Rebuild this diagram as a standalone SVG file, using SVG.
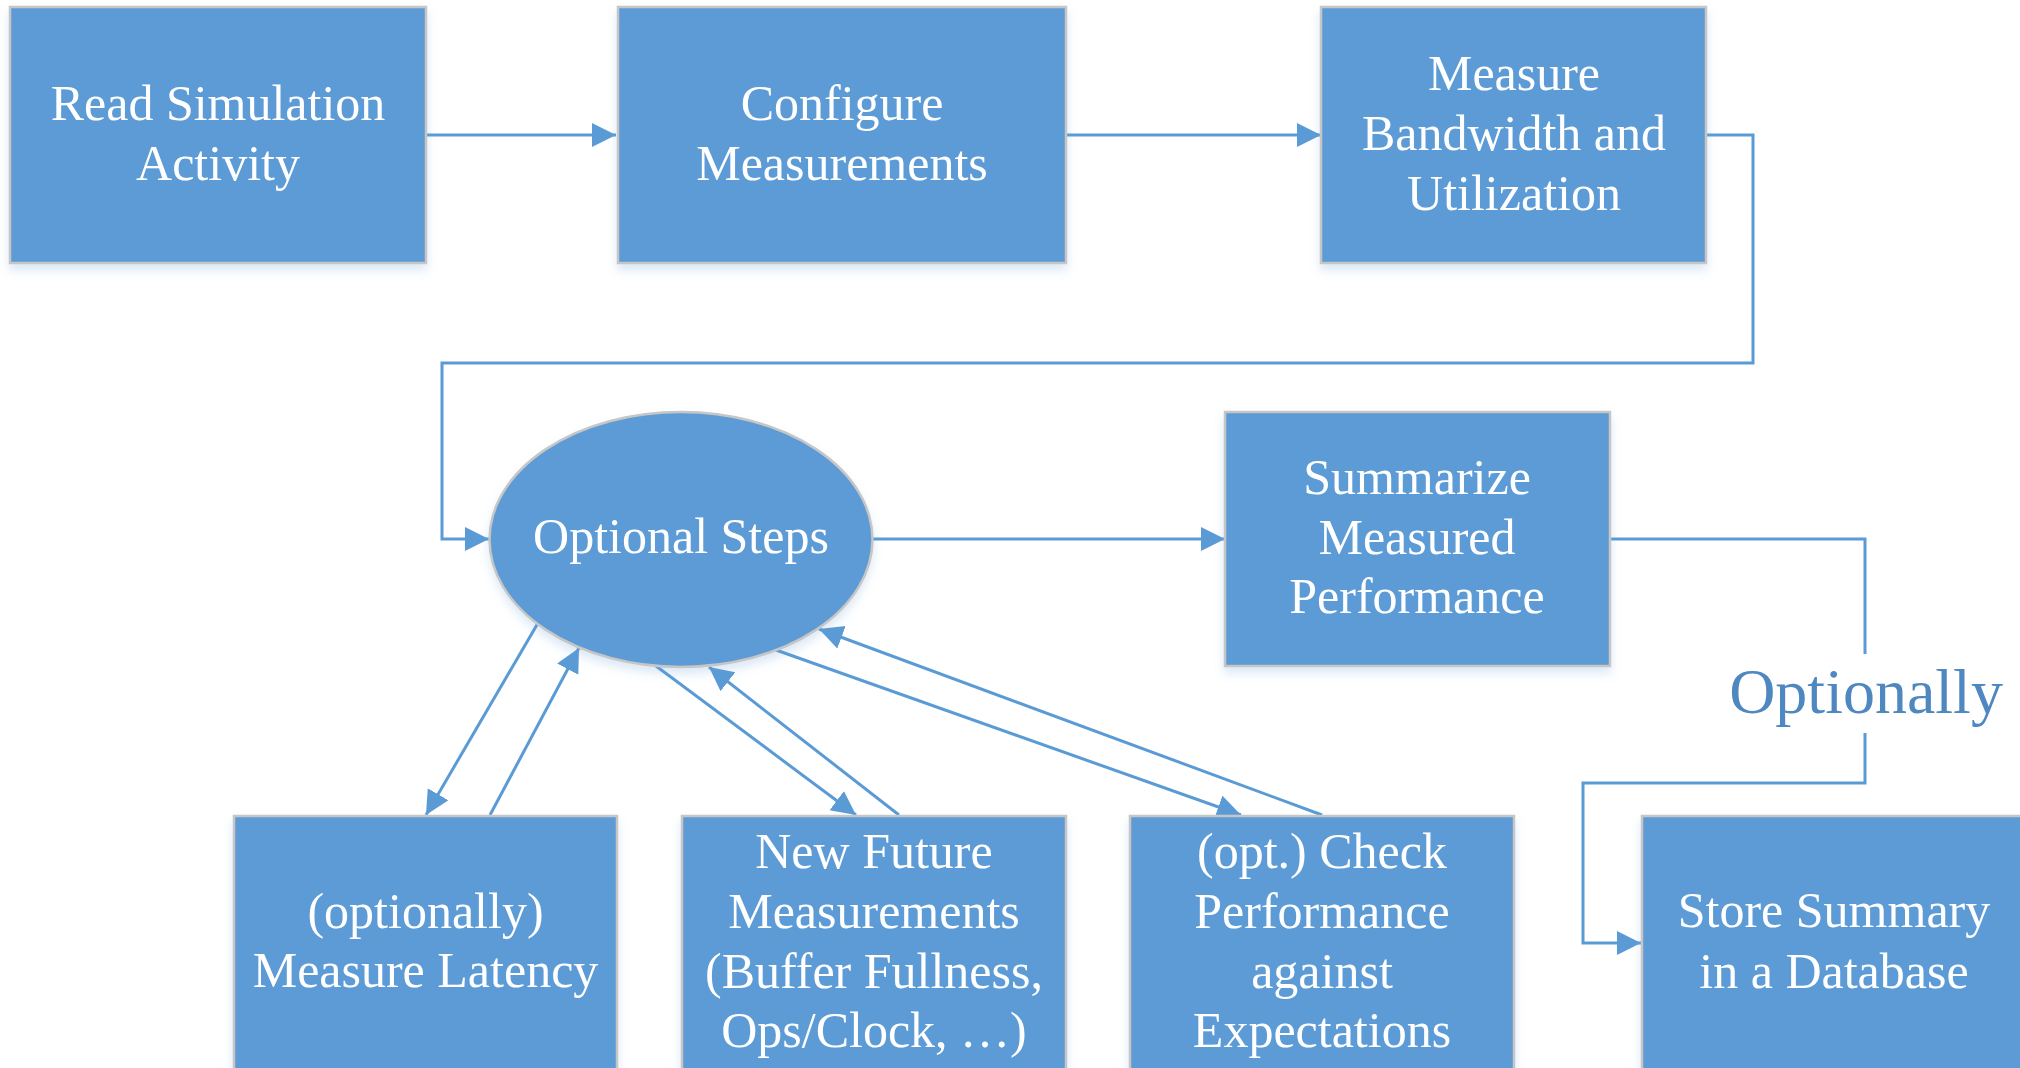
<svg xmlns="http://www.w3.org/2000/svg" width="2020" height="1068" viewBox="0 0 2020 1068">
  <defs>
    <filter id="soft" x="-10%" y="-10%" width="120%" height="130%">
      <feDropShadow dx="0" dy="6" stdDeviation="5" flood-color="#5b9bd5" flood-opacity="0.22"/>
    </filter>
    <marker id="head" markerUnits="userSpaceOnUse" markerWidth="26" markerHeight="26" refX="24" refY="12" orient="auto">
      <path d="M0,0 L24,12 L0,24 z" fill="#5b9bd5"/>
    </marker>
  </defs>
  <style>
    .box { fill: #5b9bd5; stroke: #c6c6c6; stroke-width: 2.5; filter: url(#soft); }
    .lbl { font-family: "Liberation Serif", "Times New Roman", serif; font-size: 50px; fill: #ffffff; text-anchor: middle; }
    .conn { fill: none; stroke: #5b9bd5; stroke-width: 3; }
    .note { font-family: "Liberation Serif", "Times New Roman", serif; font-size: 64px; fill: #4f88c0; text-anchor: middle; }
  </style>
  <rect width="2020" height="1068" fill="#ffffff"/>

  <!-- connectors -->
  <g id="connectors">
    <path class="conn" d="M426,135 H616" marker-end="url(#head)"/>
    <path class="conn" d="M1066,135 H1321" marker-end="url(#head)"/>
    <path class="conn" d="M1706,135 H1753 V363 H442 V539 H489" marker-end="url(#head)"/>
    <path class="conn" d="M872,539 H1225" marker-end="url(#head)"/>
    <path class="conn" d="M1610,539 H1865 V654"/>
    <path class="conn" d="M1865,733 V783 H1583 V943 H1641" marker-end="url(#head)"/>
    <text class="note" x="1866" y="713">Optionally</text>
    <!-- spokes between Optional Steps and the optional measurement boxes -->
    <path class="conn" d="M538,623 L426,815" marker-end="url(#head)"/>
    <path class="conn" d="M490,815 L579,648" marker-end="url(#head)"/>
    <path class="conn" d="M656,666 L856,815" marker-end="url(#head)"/>
    <path class="conn" d="M899,815 L709,667" marker-end="url(#head)"/>
    <path class="conn" d="M776,650 L1241,815" marker-end="url(#head)"/>
    <path class="conn" d="M1322,815 L819,629" marker-end="url(#head)"/>
  </g>

  <g id="read-activity">
    <rect class="box" x="10" y="7" width="416" height="256"/>
    <text class="lbl" x="218" y="120">Read Simulation</text>
    <text class="lbl" x="218" y="180">Activity</text>
  </g>

  <g id="configure">
    <rect class="box" x="618" y="7" width="448" height="256"/>
    <text class="lbl" x="842" y="120">Configure</text>
    <text class="lbl" x="842" y="180">Measurements</text>
  </g>

  <g id="measure-bandwidth">
    <rect class="box" x="1321" y="7" width="385" height="256"/>
    <text class="lbl" x="1514" y="90">Measure</text>
    <text class="lbl" x="1514" y="150">Bandwidth and</text>
    <text class="lbl" x="1514" y="210">Utilization</text>
  </g>

  <g id="optional-steps">
    <ellipse class="box" cx="681" cy="539.5" rx="191.5" ry="127.5"/>
    <text class="lbl" x="681" y="553">Optional Steps</text>
  </g>

  <g id="summarize">
    <rect class="box" x="1225" y="412" width="385" height="254"/>
    <text class="lbl" x="1417" y="494">Summarize</text>
    <text class="lbl" x="1417" y="554">Measured</text>
    <text class="lbl" x="1417" y="613">Performance</text>
  </g>

  <g id="measure-latency">
    <rect class="box" x="234" y="816" width="383" height="256"/>
    <text class="lbl" x="425.5" y="928">(optionally)</text>
    <text class="lbl" x="425.5" y="987">Measure Latency</text>
  </g>

  <g id="future-measurements">
    <rect class="box" x="682" y="816" width="384" height="256"/>
    <text class="lbl" x="874" y="868">New Future</text>
    <text class="lbl" x="874" y="928">Measurements</text>
    <text class="lbl" x="874" y="988">(Buffer Fullness,</text>
    <text class="lbl" x="874" y="1047">Ops/Clock, …)</text>
  </g>

  <g id="check-performance">
    <rect class="box" x="1130" y="816" width="384" height="256"/>
    <text class="lbl" x="1322" y="868">(opt.) Check</text>
    <text class="lbl" x="1322" y="928">Performance</text>
    <text class="lbl" x="1322" y="988">against</text>
    <text class="lbl" x="1322" y="1047">Expectations</text>
  </g>

  <g id="store-summary">
    <rect class="box" x="1642" y="816" width="384" height="256"/>
    <text class="lbl" x="1834" y="927">Store Summary</text>
    <text class="lbl" x="1834" y="988">in a Database</text>
  </g>
</svg>
